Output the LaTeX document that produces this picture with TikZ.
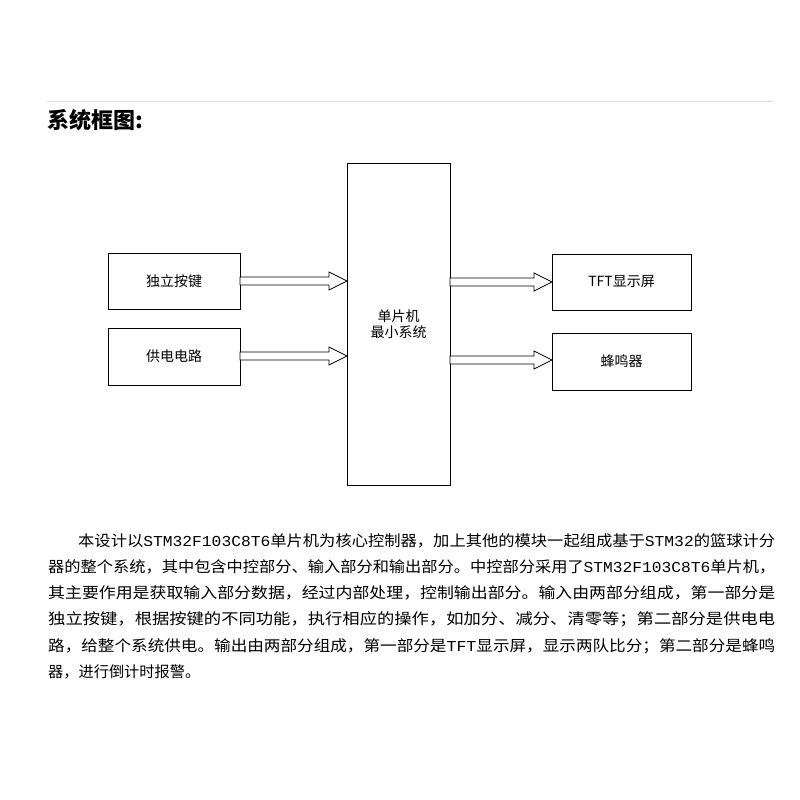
\documentclass[tikz,border=0pt]{standalone}
\usepackage{fontspec}
\usepackage{graphicx}
\setmainfont{Noto Sans CJK SC}
\newfontfamily\lat{Liberation Mono}
\begin{document}
\begin{tikzpicture}[x=1pt,y=-1pt,
  blk/.style={draw=black,line width=0.8pt,inner sep=0pt,font=\fontsize{14}{16}\selectfont},
  para/.style={anchor=west,inner sep=0pt,font=\fontsize{15.2}{17}\selectfont},
  harrow/.style={draw=black,line width=0.7pt,fill=white}]
\useasboundingbox (0,0) rectangle (800,800);
\draw[gray!25,line width=0.8pt] (47,101) -- (773,101);
\node[anchor=west,inner sep=0pt,font=\fontsize{22}{24}\selectfont\bfseries] (title) at (47,120) {系统框图:};
\node[blk,minimum width=132,minimum height=56] (key) at (174,281) {独立按键};
\node[blk,minimum width=132,minimum height=57] (pwr) at (174,356.5) {供电电路};
\node[blk,minimum width=103,minimum height=322,align=center] (mcu) at (398.5,324) {单片机\\最小系统};
\node[blk,minimum width=139,minimum height=56] (tft) at (621.5,282) {TFT显示屏};
\node[blk,minimum width=139,minimum height=57] (bz) at (621.5,361.5) {蜂鸣器};
\newcommand\harr[3]{% x1 x2 y
  \draw[harrow] (#1,#3-4) -- (#2-18,#3-4) -- (#2-18,#3-9) -- (#2,#3) -- (#2-18,#3+9) -- (#2-18,#3+4) -- (#1,#3+4) -- cycle;}
\harr{240}{347}{281}
\harr{240}{347}{356}
\harr{450}{552}{282}
\harr{450}{552}{360}
\node[para] (l1) at (78,541) {\resizebox{697pt}{\height}{本设计以{\lat STM32F103C8T6}单片机为核心控制器，加上其他的模块一起组成基于{\lat STM32}的篮球计分}};
\node[para] (l2) at (48,567) {\resizebox{727pt}{\height}{器的整个系统，其中包含中控部分、输入部分和输出部分。中控部分采用了{\lat STM32F103C8T6}单片机，}};
\node[para] (l3) at (48,593) {\resizebox{727pt}{\height}{其主要作用是获取输入部分数据，经过内部处理，控制输出部分。输入由两部分组成，第一部分是}};
\node[para] (l4) at (48,619) {\resizebox{727pt}{\height}{独立按键，根据按键的不同功能，执行相应的操作，如加分、减分、清零等；第二部分是供电电}};
\node[para] (l5) at (48,646) {\resizebox{727pt}{\height}{路，给整个系统供电。输出由两部分组成，第一部分是{\lat TFT}显示屏，显示两队比分；第二部分是蜂鸣}};
\node[para] (l6) at (48,672) {器，进行倒计时报警。};
\end{tikzpicture}
\end{document}
